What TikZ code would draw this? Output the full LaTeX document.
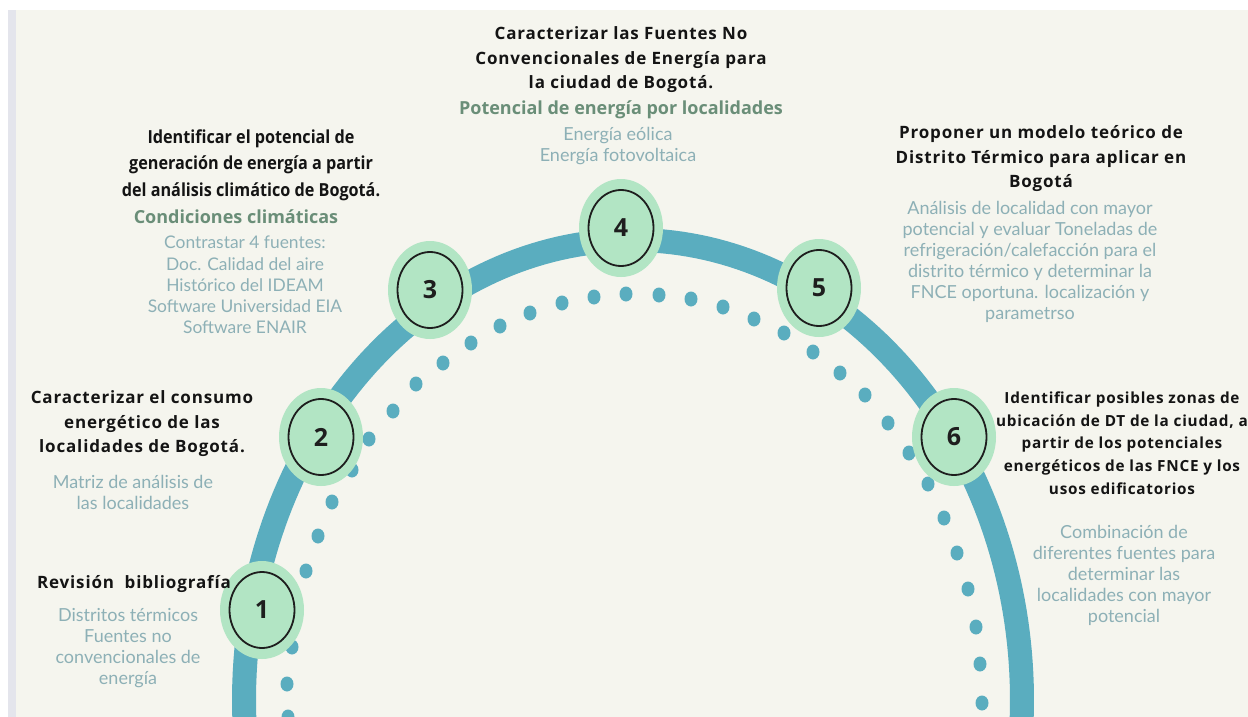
\documentclass[tikz,border=0pt]{standalone}
\usepackage{fontspec}
\setmainfont{Open Sans}
\newfontfamily\headfont{Open Sans}[LetterSpace=5]
\newfontfamily\condfont{Open Sans}[FakeStretch=0.9]
\newfontfamily\bodyfont{Lato}
\usetikzlibrary{shapes.geometric}

\definecolor{paper}{HTML}{F5F5EE}
\definecolor{stripe}{HTML}{E4E5EC}
\definecolor{bandc}{HTML}{5AADBF}
\definecolor{stepfill}{HTML}{B2E5C4}
\definecolor{ringc}{HTML}{1E1E1E}
\definecolor{headc}{HTML}{141414}
\definecolor{subc}{HTML}{6A8E78}
\definecolor{bodyc}{HTML}{8DB0B6}

\tikzset{
  band/.style={draw=bandc, line width=24pt},
  dotc/.style={fill=bandc},
  stepcirc/.style={ellipse, fill=stepfill, minimum width=84pt, minimum height=98pt,
    inner sep=0pt, text=ringc, font=\bfseries\fontsize{25}{25}\selectfont,
    path picture={\draw[ringc, line width=1.8pt] (path picture bounding box.center)
      ellipse[x radius=32.5pt, y radius=38pt];}},
  head/.style={font=\headfont\bfseries\fontsize{17}{24.5}\selectfont, text=headc,
    align=center, inner sep=0pt},
  headsmall/.style={head, font=\headfont\bfseries\fontsize{15.3}{22.7}\selectfont},
  headcond/.style={font=\condfont\bfseries\fontsize{18}{26.5}\selectfont, text=headc,
    align=center, inner sep=0pt},
  sub/.style={font=\bfseries\fontsize{18}{20}\selectfont, text=subc,
    align=center, inner sep=0pt},
  body/.style={font=\bodyfont\fontsize{18}{21}\selectfont, text=bodyc,
    align=center, inner sep=0pt},
  bodysmall/.style={body, font=\bodyfont\fontsize{17.4}{21.2}\selectfont},
}

\begin{document}
\begin{tikzpicture}[x=1pt, y=-1pt]
% page and background
\useasboundingbox (0,0) rectangle (1248,717);
\fill[white] (0,0) rectangle (1248,717);
\fill[paper] (16,10) rectangle (1248,717);
\fill[stripe] (8,10) rectangle (16,717);

\begin{scope}
\clip (16,10) rectangle (1248,717);
% thick outer arc
\draw[band] plot[domain=168:372, samples=160]
  ({633+389*cos(\x)}, {700+460*sin(\x)});
% dotted inner arc
\foreach \p in {(288,717),(287,684),(292,647),(297,609),(306,571),(318,536),(332,502),
  (352,470),(369,439),(393,411),(416,384),(443,363),(471,343),(500,326),(530,313),
  (562,303),(594,297),(626,294),(659,295),(691,299),(723,307),(754,319),(784,333),
  (813,352),(840,373),(865,395),(888,423),(909,453),(928,484),(944,518),(957,553),
  (968,589),(976,627),(980,664),(982,703)}
  \fill[dotc] \p ellipse[x radius=6.5pt, y radius=7.5pt];
\end{scope}

% step markers
\node[stepcirc] (c1) at (262,610) {1};
\node[stepcirc] (c2) at (321,437) {2};
\node[stepcirc] (c3) at (430,290) {3};
\node[stepcirc] (c4) at (621,228) {4};
\node[stepcirc] (c5) at (819,288) {5};
\node[stepcirc] (c6) at (954,437) {6};

% step 1
\node[head] (h1) at (134,584) {Revisión\ \ bibliografía};
\node[body] (b1) at (128,648) {Distritos térmicos\\Fuentes no\\convencionales de\\energía};

% step 2
\node[head] (h2) at (142,424) {Caracterizar el consumo\\energético de las\\localidades de Bogotá.};
\node[body] (b2) at (133,492) {Matriz de análisis de\\las localidades};

% step 3
\node[headcond] (h3) at (251,165) {Identificar el potencial de\\generación de energía a partir\\del análisis climático de Bogotá.};
\node[sub] (s3) at (236,217) {Condiciones climáticas};
\node[bodysmall] (b3) at (245,285) {Contrastar 4 fuentes:\\Doc. Calidad del aire\\Histórico del IDEAM\\Software Universidad EIA\\Software ENAIR};

% step 4
\node[head] (h4) at (621,60) {Caracterizar las Fuentes No\\Convencionales de Energía para\\la ciudad de Bogotá.};
\node[sub] (s4) at (621,110) {Potencial de energía por localidades};
\node[body] (b4) at (618,146) {Energía eólica\\Energía fotovoltaica};

% step 5
\node[head] (h5) at (1041,159) {Proponer un modelo teórico de\\Distrito Térmico para aplicar en\\Bogotá};
\node[body] (b5) at (1030,262) {Análisis de localidad con mayor\\potencial y evaluar Toneladas de\\refrigeración/calefacción para el\\distrito térmico y determinar la\\FNCE oportuna. localización y\\parametrso};

% step 6
\node[headsmall] (h6) at (1122,443) {Identificar posibles zonas de\\ubicación de DT de la ciudad, a\\partir de los potenciales\\energéticos de las FNCE y los\\usos edificatorios};
\node[body] (b6) at (1124,575) {Combinación de\\diferentes fuentes para\\determinar las\\localidades con mayor\\potencial};
\end{tikzpicture}
\end{document}
